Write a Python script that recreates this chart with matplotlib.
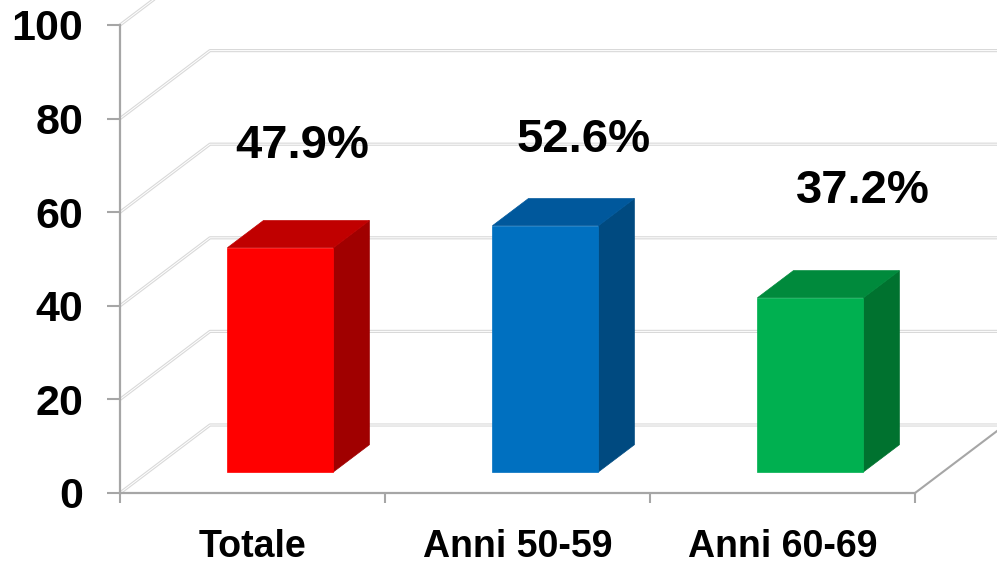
import matplotlib
matplotlib.use("Agg")
import matplotlib.pyplot as plt
from matplotlib.patches import Polygon

# ---- data ----
categories = ["Totale", "Anni 50-59", "Anni 60-69"]
values = [47.9, 52.6, 37.2]
value_labels = ["47.9%", "52.6%", "37.2%"]
y_ticks = [0, 20, 40, 60, 80, 100]

# ---- style ----
front_colors = ["#ff0000", "#0070c0", "#00b050"]
top_colors = ["#c00000", "#00589c", "#008a3c"]
side_colors = ["#a00000", "#004a80", "#00722f"]
label_dx = [0.082, 0.144, 0.199]      # label offset from bar front-top centre (category units)
label_dy = [21.8, 18.4, 22.8]         # label offset above bar top (value units)

DX, DY = 90 / 265, 68 / 4.68          # depth vector in data units
F0, F1 = 0.31, 0.71                   # bar front/back depth fractions
BW = 0.4                              # bar width
AX_GRAY = "#a6a6a6"
GRID_GRAY = "#d9d9d9"

plt.rcParams['font.family'] = ['Liberation Sans', 'DejaVu Sans']
plt.rcParams['font.weight'] = 'bold'

fig = plt.figure(figsize=(9.97, 5.64), dpi=100)
ax = fig.add_axes([120 / 997, 71 / 564, 795 / 997, 468 / 564])
ax.set_xlim(-0.5, 2.5)
ax.set_ylim(0, 100)


def proj(x, v, d):
    return (x + d * DX, v + d * DY)


def dbl_line(xs, ys, z=1):
    ax.plot(xs, ys, color=GRID_GRAY, lw=2.3, solid_capstyle='butt', clip_on=False, zorder=z)
    ax.plot(xs, ys, color="white", lw=0.7, solid_capstyle='butt', clip_on=False, zorder=z + 0.1)


# walls: left diagonals + back gridlines
x0, x1 = -0.5, len(categories) - 0.5
for v in y_ticks:
    p0 = proj(x0, v, 0)
    p1 = proj(x0, v, 1)
    p2 = proj(x1, v, 1)
    dbl_line([p0[0], p1[0], p2[0]], [p0[1], p1[1], p2[1]])

# floor right edge
pr0, pr1 = proj(x1, 0, 0), proj(x1, 0, 1)
ax.plot([pr0[0], pr1[0]], [pr0[1], pr1[1]], color=AX_GRAY, lw=1.5, clip_on=False, zorder=2)

# bars
for i, v in enumerate(values):
    xl, xr = i - BW / 2, i + BW / 2
    front = [proj(xl, 0, F0), proj(xr, 0, F0), proj(xr, v, F0), proj(xl, v, F0)]
    side = [proj(xr, 0, F0), proj(xr, 0, F1), proj(xr, v, F1), proj(xr, v, F0)]
    top = [proj(xl, v, F0), proj(xr, v, F0), proj(xr, v, F1), proj(xl, v, F1)]
    for pts, c in [(side, side_colors[i]), (top, top_colors[i]), (front, front_colors[i])]:
        ax.add_patch(Polygon(pts, closed=True, facecolor=c, edgecolor=c, lw=0.5,
                             clip_on=False, zorder=5))
    cx, cy = proj(i, v, F0)
    ax.text(cx + label_dx[i], cy + label_dy[i], value_labels[i], ha='center', va='center',
            fontsize=34, fontweight='bold', color='black', zorder=6, clip_on=False)

# spines & ticks
for s in ['top', 'right']:
    ax.spines[s].set_visible(False)
for s in ['left', 'bottom']:
    ax.spines[s].set_color(AX_GRAY)
    ax.spines[s].set_linewidth(1.6)
    ax.spines[s].set_zorder(3)

ax.set_yticks(y_ticks)
ax.set_yticklabels([str(t) for t in y_ticks])
ax.tick_params(axis='y', direction='out', length=9.4, width=1.5, color=AX_GRAY,
               labelsize=31, pad=17)
ax.set_xticks([i - 0.5 for i in range(len(categories) + 1)])
ax.set_xticklabels([])
ax.tick_params(axis='x', which='major', direction='out', length=7.5, width=1.5, color=AX_GRAY)
ax.set_xticks(range(len(categories)), minor=True)
ax.set_xticklabels(categories, minor=True)
ax.tick_params(axis='x', which='minor', length=0, labelsize=27, pad=26)
for lab in ax.get_xticklabels(minor=True) + ax.get_yticklabels():
    lab.set_fontweight('bold')
ax.set_facecolor('none')

fig.savefig("out.png", dpi=100)
